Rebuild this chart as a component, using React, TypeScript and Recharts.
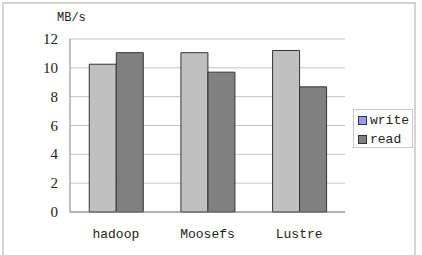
import React from 'react';
import { BarChart, Bar, XAxis, YAxis, CartesianGrid } from 'recharts';

const categories = ['hadoop', 'Moosefs', 'Lustre'];
const writeValues = [10.25, 11.05, 11.2];
const readValues = [11.05, 9.7, 8.68];
const yTicks = [0, 2, 4, 6, 8, 10, 12];

const data = categories.map((name, i) => ({
    name,
    write: writeValues[i],
    read: readValues[i],
}));

const mono = '"Liberation Mono", "DejaVu Sans Mono", monospace';
const serif = '"Liberation Serif", "DejaVu Serif", serif';

const legendItems = [
    { label: 'write', color: '#9999FF' },
    { label: 'read', color: '#808080' },
];

const LegendBox = () => (
    <div
        style={{
            position: 'absolute',
            left: 353,
            top: 109,
            width: 60,
            height: 39,
            border: '1px solid #c8c8c8',
            background: '#fff',
            boxSizing: 'border-box',
            padding: '3px 0 0 4px',
            fontFamily: mono,
            fontSize: 13,
            color: '#222',
        }}
    >
        {legendItems.map((item) => (
            <div key={item.label} style={{ display: 'flex', alignItems: 'center', height: 15, marginBottom: 4 }}>
                <span
                    style={{
                        display: 'inline-block',
                        width: 7,
                        height: 7,
                        background: item.color,
                        border: '1px solid #333',
                        marginRight: 3,
                    }}
                />
                <span>{item.label}</span>
            </div>
        ))}
    </div>
);

const YTick = (props: any) => {
    const { x, y, payload } = props;
    return (
        <text x={x} y={y} dy={5} textAnchor="end" fill="#222" fontFamily={serif} fontSize={15}>
            {payload.value}
        </text>
    );
};

const XTick = (props: any) => {
    const { x, y, payload } = props;
    return (
        <text x={x} y={y} dy={14} textAnchor="middle" fill="#222" fontFamily={mono} fontSize={13}>
            {payload.value}
        </text>
    );
};

const App: React.FC = () => {
    return (
        <div style={{ position: 'fixed', left: 0, top: 0, width: 422, height: 255, background: '#fff' }}>
            <div
                style={{
                    position: 'absolute',
                    left: 2,
                    top: 2,
                    width: 414,
                    height: 260,
                    border: '2px solid #d4d4d4',
                    boxSizing: 'border-box',
                }}
            />
            <div
                style={{
                    position: 'absolute',
                    left: 57,
                    top: 11,
                    fontFamily: mono,
                    fontSize: 12,
                    color: '#222',
                }}
            >
                MB/s
            </div>
            <BarChart
                width={422}
                height={255}
                data={data}
                margin={{ top: 39, right: 77, bottom: 13, left: 0 }}
                barCategoryGap="21%"
                barGap={0}
                style={{ position: 'absolute', left: 0, top: 0 }}
            >
                <CartesianGrid vertical={false} stroke="#c4c4c4" />
                <XAxis
                    dataKey="name"
                    height={30}
                    axisLine={{ stroke: '#808080' }}
                    tickLine={false}
                    tickSize={0}
                    tickMargin={12}
                    interval={0}
                    tick={<XTick />}
                />
                <YAxis
                    width={70}
                    domain={[0, 12]}
                    ticks={yTicks}
                    interval={0}
                    axisLine={{ stroke: '#808080' }}
                    tickLine={false}
                    tickSize={0}
                    tickMargin={12}
                    tick={<YTick />}
                />
                <YAxis
                    yAxisId="right"
                    orientation="right"
                    width={0}
                    domain={[0, 12]}
                    tick={false}
                    tickLine={false}
                    axisLine={{ stroke: '#a0a0a0' }}
                />
                <Bar dataKey="write" fill="#C0C0C0" stroke="#333" strokeWidth={1} isAnimationActive={false} />
                <Bar dataKey="read" fill="#808080" stroke="#333" strokeWidth={1} isAnimationActive={false} />
            </BarChart>
            <LegendBox />
        </div>
    );
};

export default App;
